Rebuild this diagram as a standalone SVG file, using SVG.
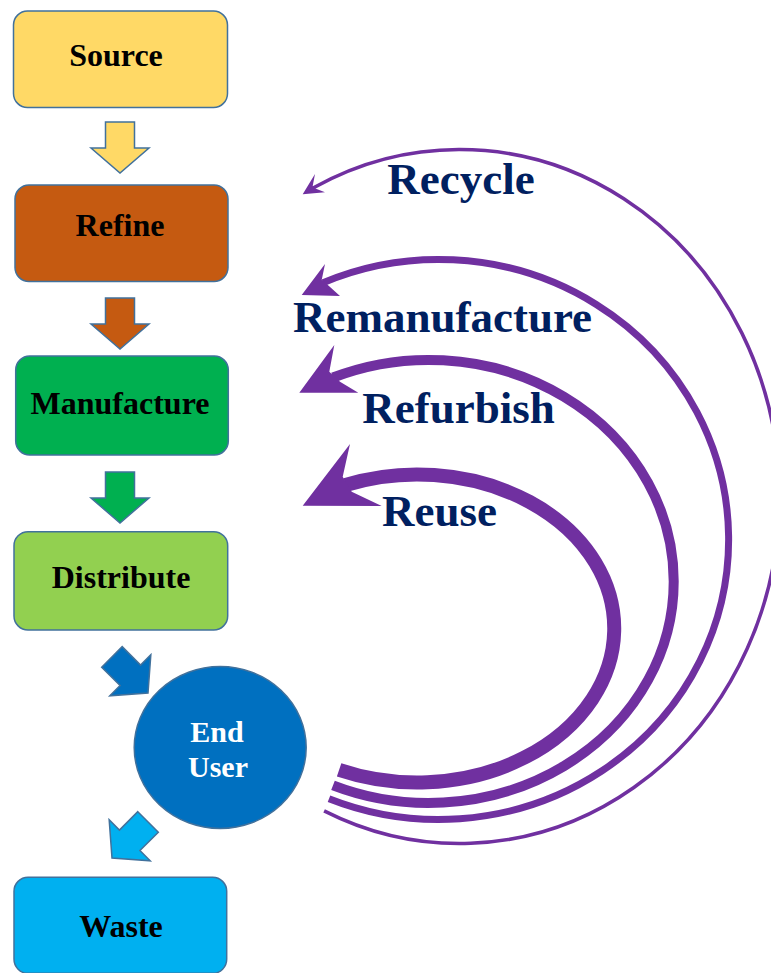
<svg xmlns="http://www.w3.org/2000/svg" width="771" height="973" viewBox="0 0 771 973">
  <style>
    .box { stroke: #41719C; stroke-width: 1.5; }
    .blk { stroke: #41719C; stroke-width: 1.5; stroke-linejoin: miter; }
    .lbl { font-family: "Liberation Serif", "DejaVu Serif", serif; font-weight: bold; font-size: 32px; fill: #000000; text-anchor: middle; }
    .lblw { font-family: "Liberation Serif", "DejaVu Serif", serif; font-weight: bold; font-size: 30px; fill: #FFFFFF; text-anchor: middle; }
    .loop { fill: none; stroke: #7030A0; stroke-linecap: butt; }
    .head { fill: #7030A0; stroke: none; }
    .loopTxt { font-family: "Liberation Serif", "DejaVu Serif", serif; font-weight: bold; font-size: 45px; fill: #002060; text-anchor: middle; }
  </style>
  <defs>
    <!-- block arrow pointing down, tip at the origin -->
    <polygon id="blockArrow" points="-14.5,-51 14.5,-51 14.5,-25 29,-25 0,0 -29,-25 -14.5,-25"/>
  </defs>

  <rect width="771" height="973" fill="#FFFFFF"/>

  <!-- flow steps -->
  <g id="source">
    <rect class="box" x="13.5" y="11" width="214" height="96.5" rx="14" fill="#FFD966"/>
    <text class="lbl" x="116" y="66">Source</text>
  </g>
  <g id="refine">
    <rect class="box" x="15" y="185" width="213" height="96.5" rx="14" fill="#C55A11"/>
    <text class="lbl" x="120" y="236">Refine</text>
  </g>
  <g id="manufacture">
    <rect class="box" x="15.7" y="356" width="212.6" height="99" rx="14" fill="#00B050"/>
    <text class="lbl" x="120" y="414">Manufacture</text>
  </g>
  <g id="distribute">
    <rect class="box" x="14" y="531.7" width="213.7" height="98.3" rx="14" fill="#92D050"/>
    <text class="lbl" x="121" y="588">Distribute</text>
  </g>
  <g id="end-user">
    <ellipse class="box" cx="220.2" cy="747.5" rx="86" ry="81" fill="#0070C0"/>
    <text class="lblw" x="217" y="742">End</text>
    <text class="lblw" x="218" y="777">User</text>
  </g>
  <g id="waste">
    <rect class="box" x="14" y="877.3" width="212.7" height="96" rx="14" fill="#00B0F0"/>
    <text class="lbl" x="121" y="937">Waste</text>
  </g>

  <!-- connectors -->
  <g id="connectors">
    <use href="#blockArrow" class="blk" fill="#FFD966" transform="translate(120,173)"/>
    <use href="#blockArrow" class="blk" fill="#C55A11" transform="translate(120,349)"/>
    <use href="#blockArrow" class="blk" fill="#00B050" transform="translate(120,523)"/>
    <use href="#blockArrow" class="blk" fill="#0070C0" transform="translate(148,693) rotate(-45)"/>
    <use href="#blockArrow" class="blk" fill="#00B0F0" transform="translate(112,858) rotate(45)"/>

    <!-- return loops from the end user back up the chain; heads have swept-back barbs -->
    <g id="loop-recycle">
      <path class="loop" stroke-width="3.5" d="M324.1,810.9 A320,347 0 1 0 313.5,187.8"/>
      <polygon class="head" points="302.7,194.3 315,174 312.7,186 316,188.7 325,192.3"/>
    </g>
    <g id="loop-remanufacture">
      <path class="loop" stroke-width="7" d="M329,798.7 A290,280 0 1 0 323,282.7"/>
      <polygon class="head" points="301.7,295 325,264 321.7,280 326.7,284 340,296"/>
    </g>
    <g id="loop-refurbish">
      <path class="loop" stroke-width="10" d="M333,785.3 A245,221.5 0 1 0 333,377.5"/>
      <polygon class="head" points="299.3,392.7 334.3,345 329.3,371.7 340,381.7 358.3,392.7"/>
    </g>
    <g id="loop-reuse">
      <path class="loop" stroke-width="14" d="M339.1,769.8 A197,154 0 1 0 345.5,485"/>
      <polygon class="head" points="302.7,505.7 350,444 342.7,476.7 351.7,491.7 381.7,506"/>
    </g>
  </g>

  <!-- loop labels -->
  <text class="loopTxt" x="461" y="194">Recycle</text>
  <text class="loopTxt" x="442.5" y="332">Remanufacture</text>
  <text class="loopTxt" x="458.5" y="423">Refurbish</text>
  <text class="loopTxt" x="439.5" y="526">Reuse</text>
</svg>
